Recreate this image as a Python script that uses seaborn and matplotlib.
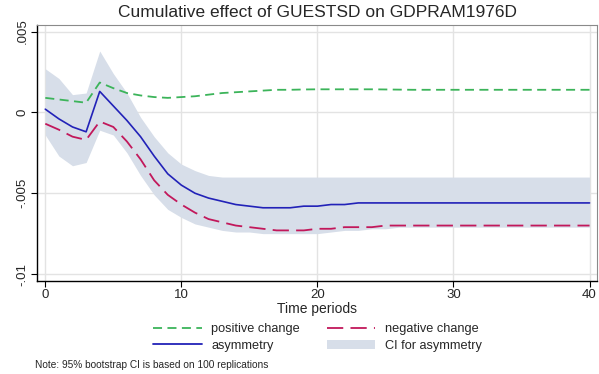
import numpy as np
import pandas as pd
import matplotlib
matplotlib.use("Agg")
import matplotlib.pyplot as plt
import seaborn as sns
from matplotlib.lines import Line2D
from matplotlib.patches import Patch

# Horizon (time periods)
periods = list(range(41))

# Cumulative effect of positive change
positive = [0.0009, 0.0008, 0.0007, 0.0006, 0.00185, 0.0015, 0.0012, 0.00105, 0.00095, 0.0009,
            0.00095, 0.001, 0.0011, 0.0012, 0.00125, 0.0013, 0.00135, 0.0014, 0.0014, 0.00142,
            0.00143, 0.00143, 0.00143, 0.00143, 0.00143, 0.00142, 0.00141, 0.0014, 0.0014, 0.0014,
            0.0014, 0.0014, 0.0014, 0.0014, 0.0014, 0.0014, 0.0014, 0.0014, 0.0014, 0.0014, 0.0014]

# Cumulative effect of negative change
negative = [-0.0007, -0.00107, -0.0015, -0.0017, -0.00056, -0.0009, -0.0018, -0.0029, -0.0042, -0.0051,
            -0.0057, -0.0062, -0.0066, -0.0068, -0.0070, -0.0071, -0.0072, -0.0073, -0.0073, -0.0073,
            -0.0072, -0.0072, -0.0071, -0.0071, -0.0071, -0.0070, -0.0070, -0.0070, -0.0070, -0.0070,
            -0.0070, -0.0070, -0.0070, -0.0070, -0.0070, -0.0070, -0.0070, -0.0070, -0.0070, -0.0070, -0.0070]

# Asymmetry
asymmetry = [0.0002, -0.0004, -0.0009, -0.0012, 0.0013, 0.0004, -0.0005, -0.0015, -0.0027, -0.0038,
             -0.0045, -0.0050, -0.0053, -0.0055, -0.0057, -0.0058, -0.0059, -0.0059, -0.0059, -0.0058,
             -0.0058, -0.0057, -0.0057, -0.0056, -0.0056, -0.0056, -0.0056, -0.0056, -0.0056, -0.0056,
             -0.0056, -0.0056, -0.0056, -0.0056, -0.0056, -0.0056, -0.0056, -0.0056, -0.0056, -0.0056, -0.0056]

# 95% bootstrap CI for asymmetry
ci_upper = [0.0027, 0.0021, 0.0011, 0.0012, 0.0038, 0.0024, 0.0012, -0.0003, -0.0015, -0.0025,
            -0.0032, -0.0036, -0.0039, -0.0040, -0.0040, -0.0040, -0.0040, -0.0040, -0.0040, -0.0040,
            -0.0040, -0.0040, -0.0040, -0.0040, -0.0040, -0.0040, -0.0040, -0.0040, -0.0040, -0.0040,
            -0.0040, -0.0040, -0.0040, -0.0040, -0.0040, -0.0040, -0.0040, -0.0040, -0.0040, -0.0040, -0.0040]
ci_lower = [-0.0014, -0.0027, -0.0033, -0.0031, -0.0011, -0.0014, -0.0025, -0.0039, -0.0051, -0.0060,
            -0.0065, -0.0069, -0.0071, -0.0073, -0.0074, -0.0074, -0.0075, -0.0075, -0.0075, -0.0075,
            -0.0075, -0.0074, -0.0073, -0.0073, -0.0072, -0.0072, -0.0071, -0.0071, -0.0071, -0.0071,
            -0.0071, -0.0071, -0.0071, -0.0071, -0.0071, -0.0071, -0.0071, -0.0071, -0.0071, -0.0071, -0.0071]

yticks = [0.005, 0, -0.005, -0.01]
ytick_labels = [".005", "0", "-.005", "-.01"]
xticks = [0, 10, 20, 30, 40]

df = pd.DataFrame({"period": periods, "positive": positive, "negative": negative,
                   "asymmetry": asymmetry, "lo": ci_lower, "hi": ci_upper})

sns.set_style("white")
plt.rcParams["font.family"] = ["Liberation Sans", "DejaVu Sans"]

green = "#3cb45a"
red = "#c2185b"
blue = "#2222b8"
band = "#d7dee9"

fig = plt.figure(figsize=(5.99, 3.74), dpi=100)
ax = fig.add_axes([0.062, 0.25, 0.9347, 0.6832])

ax.fill_between(df["period"], df["lo"], df["hi"], color=band, lw=0, zorder=1)
sns.lineplot(data=df, x="period", y="positive", ax=ax, color=green, lw=1.3, zorder=3)
ax.lines[-1].set_dashes((5, 3))
sns.lineplot(data=df, x="period", y="negative", ax=ax, color=red, lw=1.3, zorder=3)
ax.lines[-1].set_dashes((9, 4))
sns.lineplot(data=df, x="period", y="asymmetry", ax=ax, color=blue, lw=1.2, zorder=4)

ax.set_xlim(-0.6, 40.55)
ax.set_ylim(-0.0104, 0.00541)
ax.set_xticks(xticks)
ax.set_yticks(yticks)
ax.set_yticklabels(ytick_labels, rotation=90, va="center")
ax.tick_params(axis="both", labelsize=9.5, length=4, width=0.8, color="black", direction="out",
               left=True, bottom=True, pad=2)
ax.grid(True, color="#e3e3e3", lw=1.0, zorder=0)
ax.set_axisbelow(True)

for side in ["left", "bottom"]:
    ax.spines[side].set_color("black")
    ax.spines[side].set_linewidth(1.0)
for side in ["top", "right"]:
    ax.spines[side].set_color("#8a8a8a")
    ax.spines[side].set_linewidth(0.8)

ax.set_xlabel("Time periods", fontsize=10, labelpad=1)
ax.set_ylabel("")
ax.set_title("Cumulative effect of GUESTSD on GDPRAM1976D", fontsize=12.5, pad=6)

handles = [Line2D([0], [0], color=green, lw=1.3, dashes=(5, 3)),
           Line2D([0], [0], color=blue, lw=1.3),
           Line2D([0], [0], color=red, lw=1.3, dashes=(9, 4)),
           Patch(facecolor=band, edgecolor="none")]
labels = ["positive change", "asymmetry", "negative change", "CI for asymmetry"]
fig.legend(handles, labels, ncol=2, loc="center", bbox_to_anchor=(0.53, 0.098),
           frameon=False, fontsize=9.2, handlelength=3.8, columnspacing=2.1,
           handletextpad=0.75, labelspacing=0.35)

fig.text(0.058, 0.015, "Note: 95% bootstrap CI is based on 100 replications", fontsize=7.3)

fig.savefig("out.png", dpi=100)
